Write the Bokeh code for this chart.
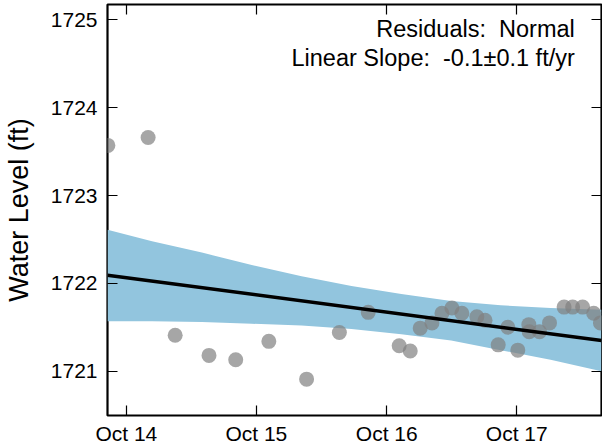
import pandas as pd
from bokeh.plotting import figure
from bokeh.models import (LinearAxis, DatetimeAxis, FixedTicker, DatetimeTickFormatter,
                          Label, Range1d, ColumnDataSource, CustomJSTickFormatter)
from bokeh.embed import file_html
from bokeh.resources import INLINE

# ---- data ----
obs_dates = ["2014-08-10", "2014-12-01", "2015-02-15", "2015-05-21", "2015-08-04",
             "2015-11-05", "2016-02-19", "2016-05-21", "2016-08-10", "2016-11-05",
             "2016-12-06", "2017-01-03", "2017-02-05", "2017-03-05", "2017-04-02",
             "2017-04-30", "2017-06-11", "2017-07-04", "2017-08-10", "2017-09-06",
             "2017-10-04", "2017-11-04", "2017-11-05", "2017-12-04", "2018-01-01",
             "2018-02-11", "2018-03-07", "2018-04-04", "2018-05-05", "2018-05-24"]
obs_levels = [1723.57, 1723.66, 1721.41, 1721.18, 1721.13,
              1721.34, 1720.91, 1721.44, 1721.67, 1721.29,
              1721.23, 1721.49, 1721.55, 1721.66, 1721.72,
              1721.66, 1721.62, 1721.58, 1721.30, 1721.50,
              1721.24, 1721.53, 1721.45, 1721.45, 1721.55,
              1721.73, 1721.73, 1721.73, 1721.66, 1721.55]

trend_dates = ["2014-08-09", "2018-05-27"]
trend_levels = [1722.093, 1721.349]

band_dates = ["2014-08-09", "2014-12-12", "2015-05-01", "2015-09-18", "2016-02-05",
              "2016-06-24", "2016-11-11", "2017-03-31", "2017-08-17", "2018-01-04",
              "2018-05-27"]
band_upper = [1722.61, 1722.48, 1722.35, 1722.21, 1722.08,
              1721.97, 1721.88, 1721.80, 1721.75, 1721.72, 1721.70]
band_lower = [1721.57, 1721.57, 1721.56, 1721.54, 1721.52,
              1721.48, 1721.42, 1721.35, 1721.24, 1721.13, 1721.00]

tick_dates = ["2014-10-01", "2015-10-01", "2016-10-01", "2017-10-01"]
y_ticks = [1721, 1722, 1723, 1724, 1725]

x_start, x_end = "2014-08-09", "2018-05-27"
y_start, y_end = 1720.496, 1725.174

annot_lines = ["Residuals:\u00a0 Normal", "Linear Slope:\u00a0 -0.1\u00b10.1 ft/yr"]
annot_x = "2018-03-13"
annot_y = [1724.89, 1724.56]

FONT = "Liberation Sans"


def ms(d):
    return pd.Timestamp(d).value / 1e6


obs = ColumnDataSource(dict(x=pd.to_datetime(obs_dates), y=obs_levels))
trend = ColumnDataSource(dict(x=pd.to_datetime(trend_dates), y=trend_levels))
band = ColumnDataSource(dict(x=pd.to_datetime(band_dates), lo=band_lower, hi=band_upper))

p = figure(width=602, height=448, x_axis_type="datetime",
           x_range=Range1d(ms(x_start), ms(x_end)),
           y_range=Range1d(y_start, y_end),
           output_backend="svg", toolbar_location=None,
           min_border_left=105, min_border_right=1, min_border_top=4, min_border_bottom=33)

p.grid.visible = False
p.outline_line_color = "black"
p.outline_line_width = 2.2
p.background_fill_color = "white"
p.border_fill_color = "white"

p.varea(x="x", y1="lo", y2="hi", source=band, fill_color="#92c5de", fill_alpha=1.0)
p.scatter(x="x", y="y", source=obs, size=15, fill_color="gray", fill_alpha=0.7,
          line_color=None)
p.line(x="x", y="y", source=trend, line_color="black", line_width=3.5)

xt = FixedTicker(ticks=[ms(d) for d in tick_dates])
yt = FixedTicker(ticks=y_ticks)
fmt = DatetimeTickFormatter(years="%b %y", months="%b %y", days="%b %y",
                            hours="%b %y", minutes="%b %y", seconds="%b %y",
                            milliseconds="%b %y", microseconds="%b %y")
blank = CustomJSTickFormatter(code="return ''")


def style(ax):
    ax.axis_line_color = None
    ax.major_tick_in = 10
    ax.major_tick_out = 0
    ax.major_tick_line_width = 1.2
    ax.minor_tick_line_color = None
    ax.major_label_text_font = FONT
    ax.major_label_text_font_size = "21px"
    ax.major_label_text_color = "black"


xa = p.xaxis[0]
xa.ticker = xt
xa.formatter = fmt
style(xa)
xa.major_label_standoff = 6

ya = p.yaxis[0]
ya.ticker = yt
style(ya)
ya.major_label_standoff = 10
ya.axis_label = "Water Level (ft)"
ya.axis_label_text_font = FONT
ya.axis_label_text_font_size = "27px"
ya.axis_label_text_font_style = "normal"
ya.axis_label_text_color = "black"
ya.axis_label_standoff = 14

top = DatetimeAxis(ticker=xt, formatter=blank)
style(top)
top.major_label_standoff = 0
top.major_label_text_font_size = "0px"
p.add_layout(top, "above")

right = LinearAxis(ticker=yt, formatter=blank)
style(right)
right.major_label_standoff = 0
right.major_label_text_font_size = "0px"
p.add_layout(right, "right")

for txt, yy in zip(annot_lines, annot_y):
    p.add_layout(Label(x=ms(annot_x), y=yy, text=txt, text_align="right",
                       text_baseline="middle", text_font=FONT,
                       text_font_size="23.5px", text_color="black"))

open("out.html", "w").write(file_html(p, INLINE))
